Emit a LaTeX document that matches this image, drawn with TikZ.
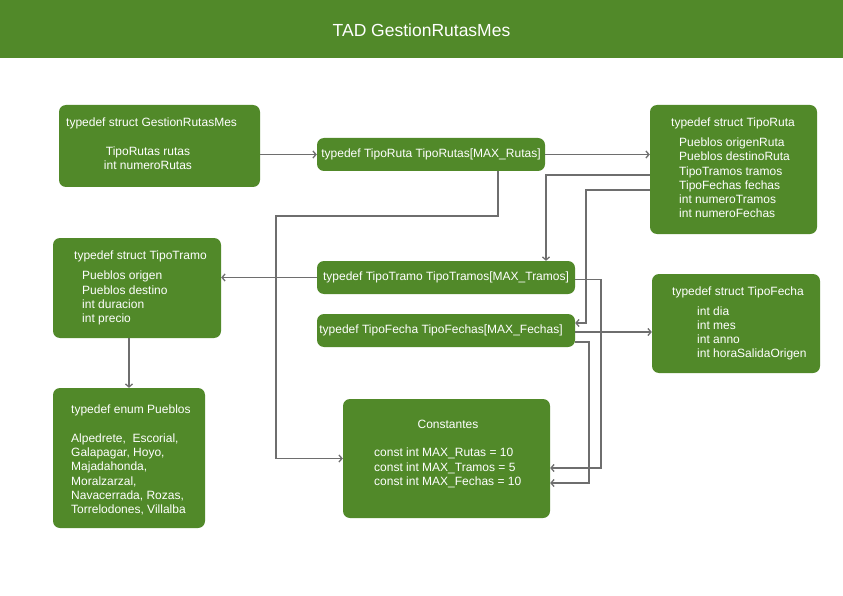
\documentclass[tikz,border=0pt]{standalone}
\usepackage{fontspec}
\setmainfont{Liberation Sans}
\usepackage{xcolor}
\usepackage{tikz}
\usetikzlibrary{positioning, arrows.meta}

\definecolor{tadgreen}{RGB}{81,137,41}
\definecolor{tadline}{RGB}{110,110,110}

\begin{document}
\begin{tikzpicture}[
    x=1pt, y=-1pt,
    box/.style={rectangle, rounded corners=7pt, fill=tadgreen, draw=none, inner sep=0pt, text=white, font=\fontsize{12}{14.2}\selectfont},
    txt/.style={inner sep=0pt, text=white, font=\fontsize{12}{14.2}\selectfont},
    body/.style={txt, align=left, anchor=west},
    conn/.style={draw=tadline, line width=1.3pt, -{Straight Barb[length=3pt, width=7pt]}}
]

\useasboundingbox (0,0) rectangle (843,596);

% Title bar
\fill[tadgreen] (0,0) rectangle (843,58);
\node[txt, font=\fontsize{17.5}{20}\selectfont] (title) at (421.5,30) {TAD GestionRutasMes};

% Struct boxes
\node[box, minimum width=201pt, minimum height=82pt] (gestion) at (159.5,146) {};
\node[box, minimum width=167pt, minimum height=129pt] (ruta) at (733.5,169.5) {};
\node[box, minimum width=168pt, minimum height=100pt] (tramo) at (137,288) {};
\node[box, minimum width=168pt, minimum height=99pt] (fecha) at (736,323.5) {};
\node[box, minimum width=152pt, minimum height=140pt] (pueblos) at (129,458) {};
\node[box, minimum width=207pt, minimum height=119pt] (constantes) at (446.5,458.5) {};

% Array typedefs
\node[box, minimum width=228pt, minimum height=33pt] (rutas) at (431,154.5) {typedef TipoRuta TipoRutas[MAX\_Rutas]};
\node[box, minimum width=258pt, minimum height=33pt] (tramos) at (446,277.5) {typedef TipoTramo TipoTramos[MAX\_Tramos]};
\node[box, minimum width=258pt, minimum height=33pt] (fechas) at (446,330.5) {\hspace*{-10pt}typedef TipoFecha TipoFechas[MAX\_Fechas]};

% Texts inside the boxes
\node[txt, anchor=west] (gestion_t) at (66,123) {typedef struct GestionRutasMes};
\node[txt, align=center] (gestion_b) at (148,158) {TipoRutas rutas\\ int numeroRutas};

\node[txt] (ruta_t) at (733,123) {typedef struct TipoRuta};
\node[body] (ruta_b) at (679,178) {Pueblos origenRuta\\ Pueblos destinoRuta\\ TipoTramos tramos\\ TipoFechas fechas\\ int numeroTramos\\ int numeroFechas};

\node[txt, anchor=west] (tramo_t) at (74,256) {typedef struct TipoTramo};
\node[body] (tramo_b) at (82,298) {Pueblos origen\\ Pueblos destino\\ int duracion\\ int precio};

\node[txt, anchor=west] (fecha_t) at (672,292) {typedef struct TipoFecha};
\node[body] (fecha_b) at (697,333.5) {int dia\\ int mes\\ int anno\\ int horaSalidaOrigen};

\node[txt, anchor=west] (pueblos_t) at (71,410) {typedef enum Pueblos};
\node[body] (pueblos_b) at (71,474.5) {Alpedrete,\ \ Escorial,\\ Galapagar, Hoyo,\\ Majadahonda,\\ Moralzarzal,\\ Navacerrada, Rozas,\\ Torrelodones, Villalba};

\node[txt] (constantes_t) at (448,424) {Constantes};
\node[body] (constantes_b) at (374,468) {const int MAX\_Rutas = 10\\ const int MAX\_Tramos = 5\\ const int MAX\_Fechas = 10};

% Connectors
\draw[conn] (rutas.west -| gestion.east) -- (rutas.west);
\draw[conn] (rutas.east) -- (rutas.east -| ruta.west);
\draw[conn] ([xshift=67pt]rutas.south) |- (276,216) |- (constantes.west);
\draw[conn] ([yshift=-5.5pt]ruta.west) -| ([xshift=100pt]tramos.north);
\draw[conn] ([yshift=-20.5pt]ruta.west) -| (586,323) -- ([yshift=7.5pt]fechas.east);
\draw[conn] (tramos.west) -- (tramos.west -| tramo.east);
\draw[conn] ([xshift=-8pt]tramo.south) -- (pueblos.north);
\draw[conn] ([yshift=-1.5pt]fechas.east) coordinate (f1) -- (f1 -| fecha.west);
\draw[conn] ([yshift=-2pt]tramos.east) -| (601,468) -- ([yshift=-9.5pt]constantes.east);
\draw[conn] ([yshift=-11.5pt]fechas.east) -| (589,483) -- ([yshift=-24.5pt]constantes.east);

\end{tikzpicture}
\end{document}
